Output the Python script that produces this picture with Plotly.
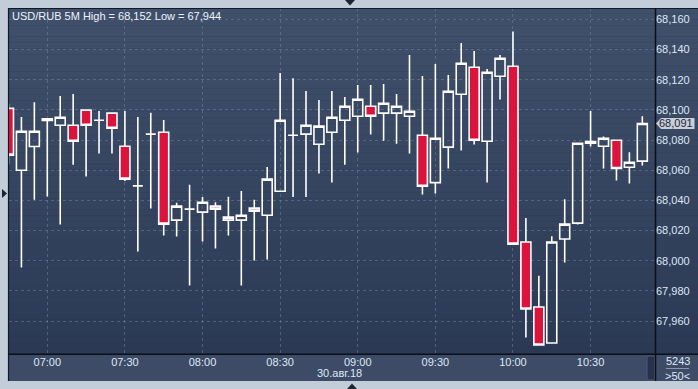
import plotly.graph_objects as go

# ---------------- data ----------------
times = ["06:45", "06:50", "06:55", "07:00", "07:05", "07:10", "07:15", "07:20", "07:25", "07:30",
         "07:35", "07:40", "07:45", "07:50", "07:55", "08:00", "08:05", "08:10", "08:15", "08:20",
         "08:25", "08:30", "08:35", "08:40", "08:45", "08:50", "08:55", "09:00", "09:05", "09:10",
         "09:15", "09:20", "09:25", "09:30", "09:35", "09:40", "09:45", "09:50", "09:55", "10:00",
         "10:05", "10:10", "10:15", "10:20", "10:25", "10:30", "10:35", "10:40", "10:45", "10:50"]
open_ = [68.1010, 68.0600, 68.0757, 68.0930, 68.0898, 68.0898, 68.0998, 68.0931, 68.0978, 68.0759,
         68.0496, 68.0839, 68.0852, 68.0269, 68.0342, 68.0322, 68.0362, 68.0269, 68.0269, 68.0349,
         68.0302, 68.0461, 68.0832, 68.0839, 68.0772, 68.0852, 68.0931, 68.0958, 68.1024, 68.0978,
         68.0978, 68.0958, 68.0832, 68.0518, 68.0753, 68.1103, 68.1282, 68.0792, 68.1223, 68.1289,
         68.0124, 67.9693, 67.9455, 68.0144, 68.0249, 68.0790, 68.0759, 68.0799, 68.0620, 68.0660]
high = [68.1040, 68.0953, 68.1050, 68.0940, 68.1092, 68.1105, 68.0998, 68.0993, 68.0978, 68.0993,
        68.0953, 68.0980, 68.0933, 68.0384, 68.0503, 68.0422, 68.0388, 68.0424, 68.0463, 68.0404,
        68.0622, 68.1244, 68.1209, 68.1125, 68.1066, 68.1125, 68.1086, 68.1165, 68.1165, 68.1172,
        68.1105, 68.1364, 68.1225, 68.1304, 68.1231, 68.1443, 68.1390, 68.1271, 68.1364, 68.1520,
        68.0283, 67.9900, 68.0163, 68.0408, 68.0779, 68.0993, 68.0823, 68.0799, 68.0719, 68.0958]
low = [68.0640, 67.9956, 68.0404, 68.0426, 68.0240, 68.0637, 68.0558, 68.0710, 68.0710, 68.0529,
       68.0061, 68.0346, 68.0167, 68.0161, 67.9836, 68.0128, 68.0081, 68.0167, 67.9836, 68.0002,
       68.0008, 68.0461, 68.0422, 68.0422, 68.0578, 68.0518, 68.0637, 68.0717, 68.0836, 68.0796,
       68.0776, 68.0710, 68.0439, 68.0445, 68.0611, 68.0730, 68.0770, 68.0518, 68.1068, 68.0110,
       67.9492, 67.9440, 67.9455, 67.9989, 68.0240, 68.0757, 68.0611, 68.0531, 68.0512, 68.0631]
close = [68.0700, 68.0858, 68.0858, 68.0940, 68.0951, 68.0792, 68.0898, 68.0931, 68.0878, 68.0541,
         68.0496, 68.0839, 68.0243, 68.0362, 68.0342, 68.0388, 68.0342, 68.0289, 68.0302, 68.0329,
         68.0541, 68.0931, 68.0832, 68.0898, 68.0892, 68.0951, 68.1024, 68.1070, 68.0958, 68.1044,
         68.1024, 68.0991, 68.0494, 68.0812, 68.1123, 68.1309, 68.0799, 68.1249, 68.1342, 68.0110,
         67.9680, 67.9442, 68.0124, 68.0243, 68.0779, 68.0779, 68.0812, 68.0611, 68.0653, 68.0910]
price_ticks = [67.96, 67.98, 68.00, 68.02, 68.04, 68.06, 68.08, 68.10, 68.12, 68.14, 68.16]
date_str = "2018-08-30"
date_label = "30.авг.18"
symbol = "USD/RUB 5M"
volume_label = "5243"
zoom_label = "&gt;50&lt;"

x = [f"{date_str} {t}:00" for t in times]

def fmt(v):
    return f"{v:.3f}".replace(".", ",")

# ---------------- layout geometry (pixels) ----------------
W, H = 698, 389
L, R, T, B = 9, 43, 8, 35
PW, PH = W - L - R, H - T - B

def px(xp):
    return (xp - L) / PW

def py(yp):
    return (H - B - yp) / PH

LABEL_COL = "#dfe8f6"
FONT = "Liberation Sans"

fig = go.Figure()
fig.add_trace(go.Candlestick(
    x=x, open=open_, high=high, low=low, close=close,
    increasing=dict(line=dict(color="white", width=1.6), fillcolor="rgba(0,0,0,0)"),
    decreasing=dict(line=dict(color="white", width=1.6), fillcolor="#dc143c"),
    whiskerwidth=0, showlegend=False, hoverinfo="skip",
))

shapes = []
# outer dark frame
shapes.append(dict(type="rect", xref="paper", yref="paper", x0=px(8), x1=px(W), y0=py(8), y1=py(381),
                   fillcolor="#2c3955", line=dict(width=0), layer="below"))
# gradient background for plot + right axis panel
top_c = (64, 80, 106)
bot_c = (43, 57, 85)
N = 60
for i in range(N):
    t = i / (N - 1)
    c = tuple(round(top_c[k] + (bot_c[k] - top_c[k]) * t) for k in range(3))
    y0p = 8 + (354 - 8) * i / N
    y1p = 8 + (354 - 8) * (i + 1) / N
    shapes.append(dict(type="rect", xref="paper", yref="paper", x0=px(8), x1=px(W),
                       y0=py(y1p), y1=py(y0p), fillcolor="rgb(%d,%d,%d)" % c,
                       line=dict(width=0), layer="below"))
# bottom axis panel
shapes.append(dict(type="rect", xref="paper", yref="paper", x0=px(8), x1=px(W), y0=py(381), y1=py(354),
                   fillcolor="#3d4b66", line=dict(width=0), layer="below"))
# scrollbar slot
shapes.append(dict(type="rect", xref="paper", yref="paper", x0=px(647), x1=px(654.5), y0=py(380), y1=py(356),
                   fillcolor="#27324a", line=dict(width=1, color="#4a5873"), layer="below"))
# frame lines
shapes.append(dict(type="line", xref="paper", yref="paper", x0=px(8.5), x1=px(8.5), y0=py(8), y1=py(381),
                   line=dict(color="#111827", width=1.2)))
shapes.append(dict(type="line", xref="paper", yref="paper", x0=px(8), x1=px(W), y0=py(8.5), y1=py(8.5),
                   line=dict(color="#111827", width=1.2)))
shapes.append(dict(type="line", xref="paper", yref="paper", x0=px(655.5), x1=px(655.5), y0=py(8), y1=py(381),
                   line=dict(color="#0b0f18", width=1.5)))
shapes.append(dict(type="line", xref="paper", yref="paper", x0=px(8), x1=px(W), y0=py(354.3), y1=py(354.3),
                   line=dict(color="#0b0f18", width=1.5)))
# separator under volume label
shapes.append(dict(type="line", xref="paper", yref="paper", x0=px(666), x1=px(689), y0=py(368.5), y1=py(368.5),
                   line=dict(color="#8a97ad", width=1)))
# UI triangles
shapes.append(dict(type="path", xref="paper", yref="paper",
                   path=f"M {px(345)},{py(0)} L {px(355)},{py(0)} L {px(350)},{py(5.5)} Z",
                   fillcolor="#1b2433", line=dict(width=0)))
shapes.append(dict(type="path", xref="paper", yref="paper",
                   path=f"M {px(347)},{py(389)} L {px(357)},{py(389)} L {px(352)},{py(383.5)} Z",
                   fillcolor="#1b2433", line=dict(width=0)))
shapes.append(dict(type="path", xref="paper", yref="paper",
                   path=f"M {px(2)},{py(189)} L {px(2)},{py(198)} L {px(7)},{py(193.5)} Z",
                   fillcolor="#1b2433", line=dict(width=0)))
# last price marker
last = close[-1]
shapes.append(dict(type="path", xref="paper", yref="y", xsizemode="pixel", ysizemode="pixel",
                   xanchor=1, yanchor=last,
                   path="M 1,0 L 6,-5.5 L 39.5,-5.5 L 39.5,5.5 L 6,5.5 Z",
                   fillcolor="#c9ced7", line=dict(width=0), layer="above"))

annotations = [
    dict(xref="paper", yref="paper", x=px(10), y=py(15.5), xanchor="left", yanchor="middle",
         text=f"{symbol} High = {fmt(max(high))} Low = {fmt(min(low))}", showarrow=False,
         font=dict(family=FONT, size=11, color="#eef3fb")),
    dict(xref="paper", yref="y", x=1, y=last, xanchor="left", yanchor="middle", xshift=2,
         text=fmt(last), showarrow=False, font=dict(family=FONT, size=11, color="#1b2840")),
    dict(xref="paper", yref="paper", x=px(339.5), y=py(373.5), xanchor="center", yanchor="middle",
         text=date_label, showarrow=False, font=dict(family=FONT, size=11, color=LABEL_COL)),
    dict(xref="paper", yref="paper", x=px(677.5), y=py(368), xanchor="center", yanchor="bottom",
         text=volume_label, showarrow=False, borderpad=0, font=dict(family=FONT, size=11, color=LABEL_COL)),
    dict(xref="paper", yref="paper", x=px(677.5), y=py(368.5), xanchor="center", yanchor="top",
         text=zoom_label, showarrow=False, borderpad=0, font=dict(family=FONT, size=11, color=LABEL_COL)),
]

fig.update_layout(
    width=W, height=H,
    margin=dict(l=L, r=R, t=T, b=B, pad=0),
    paper_bgcolor="#c3cdd9",
    plot_bgcolor="rgba(0,0,0,0)",
    separators=", ",
    boxgap=0.227, boxgroupgap=0,
    font=dict(family=FONT, size=11, color=LABEL_COL),
    shapes=shapes,
    annotations=annotations,
    showlegend=False,
    hovermode=False,
    xaxis=dict(
        type="date",
        range=[f"{date_str} 06:45:12", f"{date_str} 10:54:54"],
        tick0=f"{date_str} 07:00:00", dtick=30 * 60 * 1000, tickformat="%H:%M",
        showgrid=True, gridcolor="rgba(125,140,170,0.45)", griddash="3px,3px", gridwidth=1,
        zeroline=False, showline=False, ticks="", rangeslider=dict(visible=False),
        tickfont=dict(family=FONT, size=11, color=LABEL_COL),
        fixedrange=True,
    ),
    yaxis=dict(
        side="right",
        range=[67.9382, 68.1675],
        tickmode="array", tickvals=price_ticks, tickformat=".3f",
        showgrid=True, gridcolor="rgba(125,140,170,0.45)", griddash="3px,3px", gridwidth=1,
        zeroline=False, showline=False, ticks="",
        tickfont=dict(family=FONT, size=11, color=LABEL_COL),
        fixedrange=True,
    ),
)

fig.write_html("out.html", config=dict(displayModeBar=False))
